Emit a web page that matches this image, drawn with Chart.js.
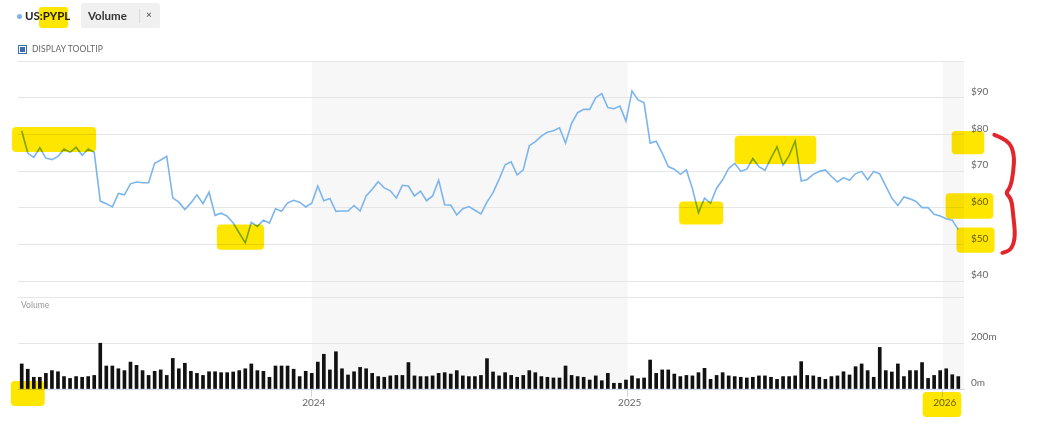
<!DOCTYPE html>
<html>
<head>
<meta charset="utf-8">
<script src="https://cdn.jsdelivr.net/npm/chart.js@4.4.1/dist/chart.umd.min.js"></script>
<style>
  html, body { margin: 0; padding: 0; background: #fff; }
  body { width: 1039px; height: 425px; position: relative; overflow: hidden; font-family: Lato, "Open Sans", sans-serif; }
  #chart { position: absolute; left: 0; top: 0; }
  .dot { position: absolute; left: 17px; top: 14px; width: 5px; height: 5px; border-radius: 50%; background: #7cb5ec; }
  .sym { position: absolute; left: 25px; top: 9px; font-size: 11.5px; font-weight: 700; color: #222; white-space: nowrap; }
  .mark { position: absolute; left: 39px; top: 7px; width: 29px; height: 21px; background: rgb(255, 230, 0); border-radius: 3px; mix-blend-mode: multiply; }
  .pill { position: absolute; left: 81px; top: 3px; width: 79px; height: 25px; background: #f0f0f0; border-radius: 2px; }
  .pill .lbl { position: absolute; left: 7px; top: 6px; font-size: 11.5px; font-weight: 700; color: #333; }
  .pill .sep { position: absolute; left: 58px; top: 6px; width: 1px; height: 14px; background: #dcdcdc; }
  .pill .x { position: absolute; left: 65px; top: 5px; font-size: 10px; color: #444; }
  .tip { position: absolute; left: 32px; top: 44px; font-size: 8.5px; color: #666; letter-spacing: 0.1px; }
  .chk { position: absolute; left: 18px; top: 45px; width: 7px; height: 7px; border: 1px solid #3d6fb0; background: #fff; }
  .chk::after { content: ""; position: absolute; left: 1px; top: 1px; width: 5px; height: 5px; background: #3d6fb0; }
</style>
</head>
<body>
<canvas id="chart" width="1039" height="425"></canvas>
<span class="dot"></span>
<span class="sym">US:PYPL</span>
<span class="mark"></span>
<div class="pill"><span class="lbl">Volume</span><span class="sep"></span><span class="x">×</span></div>
<span class="chk"></span>
<span class="tip">DISPLAY TOOLTIP</span>
<script>
// weekly closes, US:PYPL, first week starts Mon 30 Jan 2023
const startDay = Date.UTC(2023, 0, 30) / 864e5;

const price = [
  81.0, 74.9, 73.7, 76.3, 73.5, 73.1, 74.0, 76.0, 75.1, 76.5,
  74.3, 76.0, 75.1, 61.8, 61.1, 60.2, 63.9, 63.5, 66.5, 67.0,
  66.8, 66.8, 72.1, 73.0, 74.0, 62.7, 61.5, 59.5, 61.3, 63.5,
  61.1, 64.2, 57.9, 58.5, 57.7, 55.8, 53.1, 50.4, 56.0, 54.9,
  56.6, 55.8, 59.7, 59.0, 61.3, 62.0, 61.5, 60.2, 61.2, 65.9,
  61.9, 62.5, 59.0, 59.1, 59.1, 60.6, 59.1, 63.2, 65.0, 67.1,
  65.4, 64.6, 62.6, 66.1, 65.9, 63.2, 64.5, 61.9, 63.2, 67.5,
  60.8, 60.7, 58.0, 59.7, 60.3, 59.3, 58.3, 61.5, 64.1, 67.7,
  71.7, 72.5, 68.9, 70.3, 76.9, 78.0, 79.5, 80.6, 81.0, 81.8,
  77.6, 83.0, 85.9, 86.8, 86.8, 90.0, 91.1, 87.3, 87.0, 87.7,
  83.6, 91.8, 89.4, 88.6, 77.6, 78.1, 74.9, 71.2, 70.5, 69.1,
  70.3, 65.2, 58.6, 62.6, 61.2, 65.3, 67.6, 70.7, 72.1, 69.9,
  70.5, 73.4, 71.2, 70.2, 73.5, 76.6, 71.6, 74.2, 78.2, 67.3,
  67.7, 69.1, 69.9, 70.3, 68.5, 67.0, 68.2, 67.5, 69.3, 69.9,
  67.6, 69.9, 69.2, 65.9, 62.6, 60.6, 62.9, 62.4, 61.7, 60.0,
  60.0, 58.2, 57.7, 57.0, 56.6, 54.0
];

// weekly volume, millions
const volume = [
  109, 86, 51, 51, 68, 80, 75, 54, 46, 54,
  51, 54, 59, 199, 100, 100, 88, 80, 117, 103,
  80, 59, 77, 83, 59, 133, 88, 112, 77, 68,
  59, 75, 75, 71, 71, 74, 80, 88, 109, 80,
  77, 51, 100, 100, 100, 86, 54, 77, 68, 117,
  151, 83, 162, 88, 61, 75, 94, 88, 68, 54,
  51, 57, 59, 59, 115, 57, 54, 54, 57, 68,
  71, 65, 80, 57, 54, 54, 59, 132, 74, 57,
  71, 59, 51, 59, 80, 71, 54, 51, 48, 48,
  100, 59, 54, 51, 39, 57, 36, 68, 25, 25,
  39, 57, 45, 48, 126, 68, 83, 83, 65, 54,
  59, 57, 71, 90, 42, 59, 71, 57, 54, 51,
  48, 51, 57, 57, 51, 42, 54, 54, 57, 119,
  59, 57, 51, 42, 54, 57, 75, 61, 97, 109,
  80, 51, 181, 80, 74, 109, 54, 80, 80, 115,
  46, 59, 80, 88, 62, 54
];

const yearLabels = ["2024", "2025", "2026"];
const priceTicks = [40, 50, 60, 70, 80, 90, 100];
const volumeTicks = [0, 200, 400];

// hand-drawn marker strokes on the screenshot (week index / axis units)
const highlights = [
  { axis: "y", from: -1.6, to: 12.3, low: 75.2, high: 82.0 },
  { axis: "y", from: 32.3, to: 40.1, low: 48.5, high: 55.4 },
  { axis: "y", from: 108.8, to: 116.1, low: 55.4, high: 61.7 },
  { axis: "y", from: 118.0, to: 131.5, low: 71.9, high: 79.6 },
  { axis: "y", from: 153.9, to: 159.3, low: 74.6, high: 80.9 },
  { axis: "y", from: 152.9, to: 160.8, low: 57.0, high: 63.9 },
  { axis: "y", from: 154.7, to: 161.0, low: 47.7, high: 54.6 },
  { axis: "yv", from: -1.8, to: 3.8, low: -74, high: 35 },
  { axis: "yv", from: 149.1, to: 155.5, low: -122, high: -13 }
];
const brace = [
  [160.97, 79.84], [163.29, 78.46], [164.28, 74.62], [164.12, 69.67],
  [163.62, 65.55], [162.79, 63.9], [163.79, 62.53], [164.12, 57.58],
  [164.45, 52.09], [163.79, 48.52], [162.3, 47.69]
];

const weekX = (i) => startDay + 7 * i;
const yearStart = (y) => Date.UTC(y, 0, 1) / 864e5;
const yearTicks = yearLabels.map((y) => yearStart(+y));
const bands = [[yearStart(2024), yearStart(2025)], [yearStart(2026), yearStart(2027)]];

Chart.defaults.font.family = 'Lato, "Open Sans", sans-serif';

const yearBands = {
  id: "yearBands",
  beforeDraw(chart) {
    const { ctx, chartArea, scales } = chart;
    ctx.save();
    ctx.fillStyle = "#fff";
    ctx.fillRect(0, 0, chart.width, chart.height);
    ctx.fillStyle = "#f7f7f7";
    bands.forEach(([a, b]) => {
      const x0 = Math.max(chartArea.left, scales.x.getPixelForValue(a));
      const x1 = Math.min(chartArea.right, scales.x.getPixelForValue(b));
      if (x1 > x0) ctx.fillRect(x0, chartArea.top, x1 - x0, chartArea.bottom - chartArea.top);
    });
    ctx.restore();
  },
  afterDatasetsDraw(chart) {
    const { ctx, chartArea, scales } = chart;
    ctx.save();
    ctx.fillStyle = "#999";
    ctx.font = '8.5px Lato, "Open Sans", sans-serif';
    ctx.textBaseline = "top";
    ctx.fillText("Volume", chartArea.left + 3, scales.yv.top + 4);
    ctx.restore();
  }
};

const markers = {
  id: "markers",
  afterDraw(chart) {
    const { ctx, scales } = chart;
    ctx.save();
    ctx.globalCompositeOperation = "multiply";
    ctx.fillStyle = "rgb(255, 230, 0)";
    highlights.forEach((h) => {
      const ys = scales[h.axis];
      const x0 = scales.x.getPixelForValue(weekX(h.from));
      const x1 = scales.x.getPixelForValue(weekX(h.to));
      const y0 = ys.getPixelForValue(h.high);
      const y1 = ys.getPixelForValue(h.low);
      ctx.beginPath();
      if (ctx.roundRect) ctx.roundRect(x0, y0, x1 - x0, y1 - y0, 4);
      else ctx.rect(x0, y0, x1 - x0, y1 - y0);
      ctx.fill();
    });
    ctx.globalCompositeOperation = "source-over";
    const pts = brace.map(([i, v]) => [scales.x.getPixelForValue(weekX(i)), scales.y.getPixelForValue(v)]);
    ctx.strokeStyle = "#e2262b";
    ctx.lineWidth = 4;
    ctx.lineCap = "round";
    ctx.lineJoin = "round";
    ctx.beginPath();
    ctx.moveTo(pts[0][0], pts[0][1]);
    for (let i = 1; i < pts.length - 1; i++) {
      const mx = (pts[i][0] + pts[i + 1][0]) / 2;
      const my = (pts[i][1] + pts[i + 1][1]) / 2;
      ctx.quadraticCurveTo(pts[i][0], pts[i][1], mx, my);
    }
    ctx.lineTo(pts[pts.length - 1][0], pts[pts.length - 1][1]);
    ctx.stroke();
    ctx.restore();
  }
};

const tickFont = { size: 10 };

new Chart(document.getElementById("chart"), {
  type: "line",
  data: {
    datasets: [
      {
        type: "line",
        data: price.map((v, i) => ({ x: weekX(i), y: v })),
        yAxisID: "y",
        borderColor: "#7cb5ec",
        borderWidth: 1.6,
        pointRadius: 0,
        tension: 0
      },
      {
        type: "bar",
        data: volume.map((v, i) => ({ x: weekX(i), y: v })),
        yAxisID: "yv",
        backgroundColor: "#111",
        barThickness: 3,
        grouped: false
      }
    ]
  },
  options: {
    responsive: false,
    animation: false,
    events: [],
    layout: { padding: { left: 18, top: 61, right: 0, bottom: 0 } },
    plugins: { legend: { display: false }, tooltip: { enabled: false } },
    scales: {
      x: {
        type: "linear",
        offset: false,
        min: weekX(0) - 4.3,
        max: weekX(price.length - 1) + 6.6,
        afterBuildTicks: (s) => { s.ticks = yearTicks.map((v) => ({ value: v })); },
        afterFit: (s) => { s.height = 36; },
        grid: { offset: false, drawOnChartArea: false, drawTicks: true, tickLength: 8, color: "#ccd6eb" },
        border: { display: true, color: "#ccd6eb" },
        ticks: {
          padding: 0,
          labelOffset: 2,
          color: "#666",
          font: tickFont,
          maxRotation: 0,
          autoSkip: false,
          callback: (v, i) => yearLabels[i]
        }
      },
      y: {
        type: "linear",
        position: "right",
        stack: "panes",
        stackWeight: 236,
        min: 35.64,
        max: 100,
        afterBuildTicks: (s) => { s.ticks = priceTicks.map((v) => ({ value: v })); },
        afterFit: (s) => { s.width = 75; },
        grid: { color: "#e6e6e6", drawTicks: false },
        border: { display: false },
        ticks: {
          padding: 7,
          labelOffset: -6,
          color: "#666",
          font: tickFont,
          callback: (v) => (v >= 100 ? "" : "$" + v)
        }
      },
      yv: {
        type: "linear",
        position: "right",
        stack: "panes",
        stackWeight: 92,
        min: 0,
        max: 400,
        afterBuildTicks: (s) => { s.ticks = volumeTicks.map((v) => ({ value: v })); },
        afterFit: (s) => { s.width = 75; },
        grid: { color: "#e6e6e6", drawTicks: false },
        border: { display: false },
        ticks: {
          padding: 7,
          labelOffset: -6,
          color: "#666",
          font: tickFont,
          callback: (v) => (v >= 400 ? "" : v + "m")
        }
      }
    }
  },
  plugins: [yearBands, markers]
});
</script>
</body>
</html>
